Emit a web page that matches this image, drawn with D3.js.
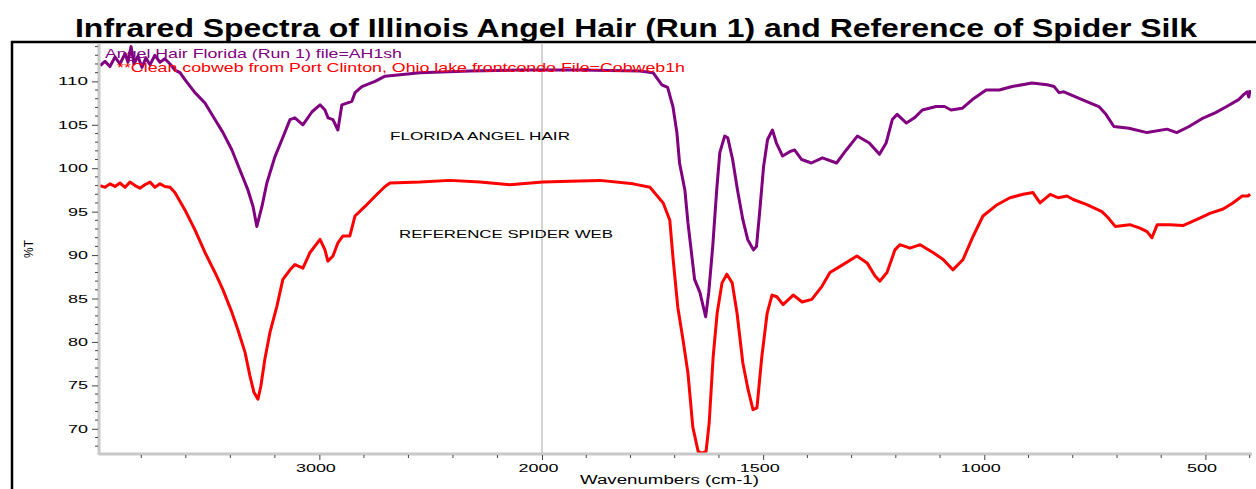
<!DOCTYPE html>
<html>
<head>
<meta charset="utf-8">
<script src="https://cdn.jsdelivr.net/npm/d3@7"></script>
<style>
  html, body { margin: 0; padding: 0; background: #fff; }
  svg { display: block; font-family: "Liberation Sans", Arial, sans-serif; }
</style>
</head>
<body>
<svg id="chart" width="1256" height="489"></svg>
<script>
// ---------------- DATA ----------------
const chartTitle = "Infrared Spectra of Illinois Angel Hair (Run 1) and Reference of Spider Silk";
const legendAngel = "Angel Hair Florida (Run 1) file=AH1sh";
const legendCobweb = "**Clean cobweb from Port Clinton, Ohio lake frontcondo File=Cobweb1h";
const labelAngel = "FLORIDA ANGEL HAIR";
const labelCobweb = "REFERENCE SPIDER WEB";
const xAxisTitle = "Wavenumbers (cm-1)";
const yAxisTitle = "%T";

const xMajorTicks = [3000, 2000, 1500, 1000, 500];
const xMinorTicksHigh = [3800, 3600, 3400, 3200, 2800, 2600, 2400, 2200];
const xMinorTicksLow = [1900, 1800, 1700, 1600, 1400, 1300, 1200, 1100, 900, 800, 700, 600, 400];
const yMajorTicks = [70, 75, 80, 85, 90, 95, 100, 105, 110];

// Angel hair (purple) spectrum: wavenumber (cm-1) and %T
const angelWn = [3985,3963,3941,3918,3896,3873,3860,3846,3833,3815,3797,3779,3761,3739,3716,3694,3671,3649,3626,3604,3559,3514,3469,3433,3393,3357,3321,3298,3281,3258,3236,3200,3168,3132,3110,3074,3033,2997,2975,2961,2939,2917,2899,2854,2840,2809,2750,2705,2548,2323,2099,1914,1779,1749,1729,1716,1704,1695,1689,1677,1670,1661,1655,1643,1630,1623,1614,1605,1598,1587,1580,1569,1558,1546,1535,1522,1515,1508,1499,1490,1479,1470,1456,1440,1429,1413,1391,1366,1334,1312,1287,1260,1237,1222,1208,1197,1176,1158,1140,1109,1090,1075,1050,1027,996,966,937,892,858,842,831,820,779,741,725,707,673,632,587,565,537,508,477,452,425,413,406,402,399];
const angelT  = [111.8,112.3,111.7,112.8,112.0,113.2,112.2,114.0,112.0,112.9,111.6,112.7,111.9,113.0,112.2,112.6,112.0,111.3,111.0,110.2,108.7,107.5,105.6,104.1,102.1,99.8,97.5,95.6,93.3,95.6,98.3,101.3,103.3,105.6,105.8,105.0,106.5,107.3,106.7,105.8,105.6,104.4,107.3,107.7,108.7,109.4,110.0,110.6,111.0,111.2,111.3,111.3,111.2,111.0,109.6,109.3,107.1,104.1,100.6,97.5,93.7,89.8,87.2,85.7,82.9,85.7,91.0,97.5,101.8,103.7,103.5,101.0,97.5,94.1,91.8,90.6,91.0,94.9,100.2,103.3,104.4,102.9,101.4,101.9,102.1,101.0,100.6,101.2,100.6,102.1,103.7,102.9,101.6,102.9,105.6,106.2,105.2,105.8,106.7,107.1,107.1,106.7,106.9,107.9,109.0,109.0,109.4,109.8,109.6,109.4,108.7,108.8,107.9,107.1,106.2,104.8,104.6,104.1,104.5,104.1,104.8,105.7,106.4,107.1,107.9,108.5,108.8,108.2,109.0];

// Reference spider web (red) spectrum
const cobwebWn = [3985,3963,3941,3918,3896,3873,3851,3828,3806,3784,3761,3739,3716,3694,3671,3649,3604,3559,3514,3469,3433,3393,3366,3334,3312,3294,3276,3263,3245,3222,3191,3164,3132,3110,3074,3042,2997,2975,2962,2939,2917,2894,2863,2840,2795,2741,2705,2683,2548,2413,2279,2144,1998,1937,1869,1794,1756,1726,1711,1704,1693,1681,1670,1659,1647,1638,1629,1622,1613,1604,1593,1582,1570,1559,1546,1534,1523,1514,1503,1491,1480,1469,1455,1432,1412,1390,1367,1349,1326,1288,1265,1247,1236,1220,1202,1191,1168,1145,1116,1093,1071,1048,1025,1003,971,942,912,890,874,851,833,813,799,768,734,720,704,671,648,632,621,609,580,551,519,490,460,438,417,404,399];
const cobwebT  = [98.0,97.8,98.2,97.9,98.3,97.8,98.4,98.0,97.7,98.1,98.4,97.8,98.2,97.9,97.8,97.2,95.2,92.9,90.3,88.0,86.0,83.4,81.4,78.8,76.1,74.2,73.4,74.9,78.0,81.1,84.1,87.2,88.3,88.9,88.5,90.3,91.8,90.6,89.3,89.9,91.4,92.2,92.2,94.5,95.6,97.0,97.9,98.3,98.4,98.6,98.4,98.1,98.4,98.5,98.6,98.2,97.8,96.0,94.0,89.8,84.0,80.2,76.4,70.2,67.4,67.2,67.4,70.7,78.3,83.3,86.8,87.8,86.8,83.3,77.6,74.5,72.2,72.4,78.3,83.3,85.4,85.2,84.3,85.4,84.6,84.9,86.4,88.0,88.7,89.9,89.1,87.6,87.0,88.0,90.6,91.2,90.8,91.2,90.3,89.5,88.3,89.5,92.2,94.5,95.8,96.6,97.0,97.2,96.0,97.0,96.6,96.8,96.4,95.8,95.0,94.3,93.3,93.5,93.1,92.7,92.0,93.5,93.5,93.4,94.1,94.8,95.3,96.0,96.8,96.8,97.0];

// ---------------- DRAW ----------------
const svg = d3.select("#chart");
const plotL = 99, plotR = 1251, plotT = 44, plotB = 454;

// FTIR-style split scale: 4000-2000 compressed, 2000-400 expanded
const x = d3.scaleLinear().domain([3990, 2000, 397]).range([plotL, 542, plotR]);
const y = d3.scaleLinear().domain([67.1, 114.3]).range([plotB, plotT]);

// Title
svg.append("text")
  .attr("x", 636).attr("y", 37)
  .attr("text-anchor", "middle")
  .attr("font-size", 25).attr("font-weight", "bold")
  .attr("textLength", 1122).attr("lengthAdjust", "spacingAndGlyphs")
  .text(chartTitle);

// Outer frame
svg.append("rect")
  .attr("x", 12).attr("y", 42).attr("width", 1270).attr("height", 500)
  .attr("fill", "none").attr("stroke", "#000").attr("stroke-width", 2.5);

// 2000 break line
svg.append("line")
  .attr("x1", x(2000)).attr("x2", x(2000))
  .attr("y1", plotT).attr("y2", plotB)
  .attr("stroke", "#a8a8a8").attr("stroke-width", 1);

// Clip
svg.append("clipPath").attr("id", "clip")
  .append("rect").attr("x", plotL).attr("y", plotT).attr("width", plotR - plotL).attr("height", plotB - plotT);

const line = d3.line().x(d => x(d[0])).y(d => y(d[1]));

const g = svg.append("g").attr("clip-path", "url(#clip)");
g.append("path")
  .datum(cobwebWn.map((w, i) => [w, cobwebT[i]]))
  .attr("d", line).attr("fill", "none")
  .attr("stroke", "#ff0000").attr("stroke-width", 3).attr("stroke-linejoin", "round");
g.append("path")
  .datum(angelWn.map((w, i) => [w, angelT[i]]))
  .attr("d", line).attr("fill", "none")
  .attr("stroke", "#800080").attr("stroke-width", 3).attr("stroke-linejoin", "round");

// Axes lines
svg.append("line").attr("x1", plotL).attr("x2", plotL).attr("y1", plotT).attr("y2", plotB + 1)
  .attr("stroke", "#c8c8c8").attr("stroke-width", 3);
svg.append("line").attr("x1", plotL).attr("x2", plotR + 1).attr("y1", plotB).attr("y2", plotB)
  .attr("stroke", "#c8c8c8").attr("stroke-width", 3);

// X axis ticks
const xAxis = d3.axisBottom(x).tickValues(xMajorTicks).tickSize(5).tickSizeOuter(0).tickFormat(d3.format("d"));
const gx = svg.append("g").attr("transform", `translate(0,${plotB + 1})`).call(xAxis);
gx.select(".domain").remove();
gx.selectAll(".tick line").attr("stroke", "#444");
gx.selectAll(".tick text")
  .attr("y", 9).attr("dx", -4)
  .attr("font-family", "Liberation Sans, Arial, sans-serif")
  .attr("font-size", 11).attr("fill", "#000")
  .attr("textLength", d => String(d).length * 10).attr("lengthAdjust", "spacingAndGlyphs");

const xMinorAll = xMinorTicksHigh.concat(xMinorTicksLow);
svg.append("g").selectAll("line").data(xMinorAll).join("line")
  .attr("x1", d => x(d)).attr("x2", d => x(d))
  .attr("y1", plotB + 1).attr("y2", plotB + 4)
  .attr("stroke", "#444").attr("stroke-width", 1);

// Y axis ticks
const yAxis = d3.axisLeft(y).tickValues(yMajorTicks).tickSize(6).tickSizeOuter(0).tickFormat(d3.format("d"));
const gy = svg.append("g").attr("transform", `translate(${plotL - 1},0)`).call(yAxis);
gy.select(".domain").remove();
gy.selectAll(".tick line").attr("stroke", "#444");
gy.selectAll(".tick text")
  .attr("x", -10)
  .attr("font-family", "Liberation Sans, Arial, sans-serif")
  .attr("font-size", 11).attr("fill", "#000")
  .attr("textLength", d => String(d).length * 10).attr("lengthAdjust", "spacingAndGlyphs");

const yMinor = d3.range(68, 115, 1).filter(v => !yMajorTicks.includes(v));
svg.append("g").selectAll("line").data(yMinor).join("line")
  .attr("x1", plotL - 4).attr("x2", plotL - 1)
  .attr("y1", d => y(d)).attr("y2", d => y(d))
  .attr("stroke", "#444").attr("stroke-width", 1);

// Axis titles
svg.append("text")
  .attr("transform", "translate(33,249) rotate(-90)")
  .attr("text-anchor", "middle").attr("font-size", 12)
  .text(yAxisTitle);
svg.append("text")
  .attr("x", 580).attr("y", 484)
  .attr("font-size", 12)
  .attr("textLength", 179).attr("lengthAdjust", "spacingAndGlyphs")
  .text(xAxisTitle);

// Legend texts
svg.append("text")
  .attr("x", 105).attr("y", 58)
  .attr("font-size", 13).attr("fill", "#800080")
  .attr("textLength", 297).attr("lengthAdjust", "spacingAndGlyphs")
  .text(legendAngel);
svg.append("text")
  .attr("x", 117).attr("y", 72)
  .attr("font-size", 13).attr("fill", "#ff0000")
  .attr("textLength", 568).attr("lengthAdjust", "spacingAndGlyphs")
  .text(legendCobweb);

// Annotations
svg.append("text")
  .attr("x", 390).attr("y", 140)
  .attr("font-size", 11).attr("fill", "#000")
  .attr("textLength", 180).attr("lengthAdjust", "spacingAndGlyphs")
  .text(labelAngel);
svg.append("text")
  .attr("x", 399).attr("y", 238)
  .attr("font-size", 11).attr("fill", "#000")
  .attr("textLength", 214).attr("lengthAdjust", "spacingAndGlyphs")
  .text(labelCobweb);
</script>
</body>
</html>
